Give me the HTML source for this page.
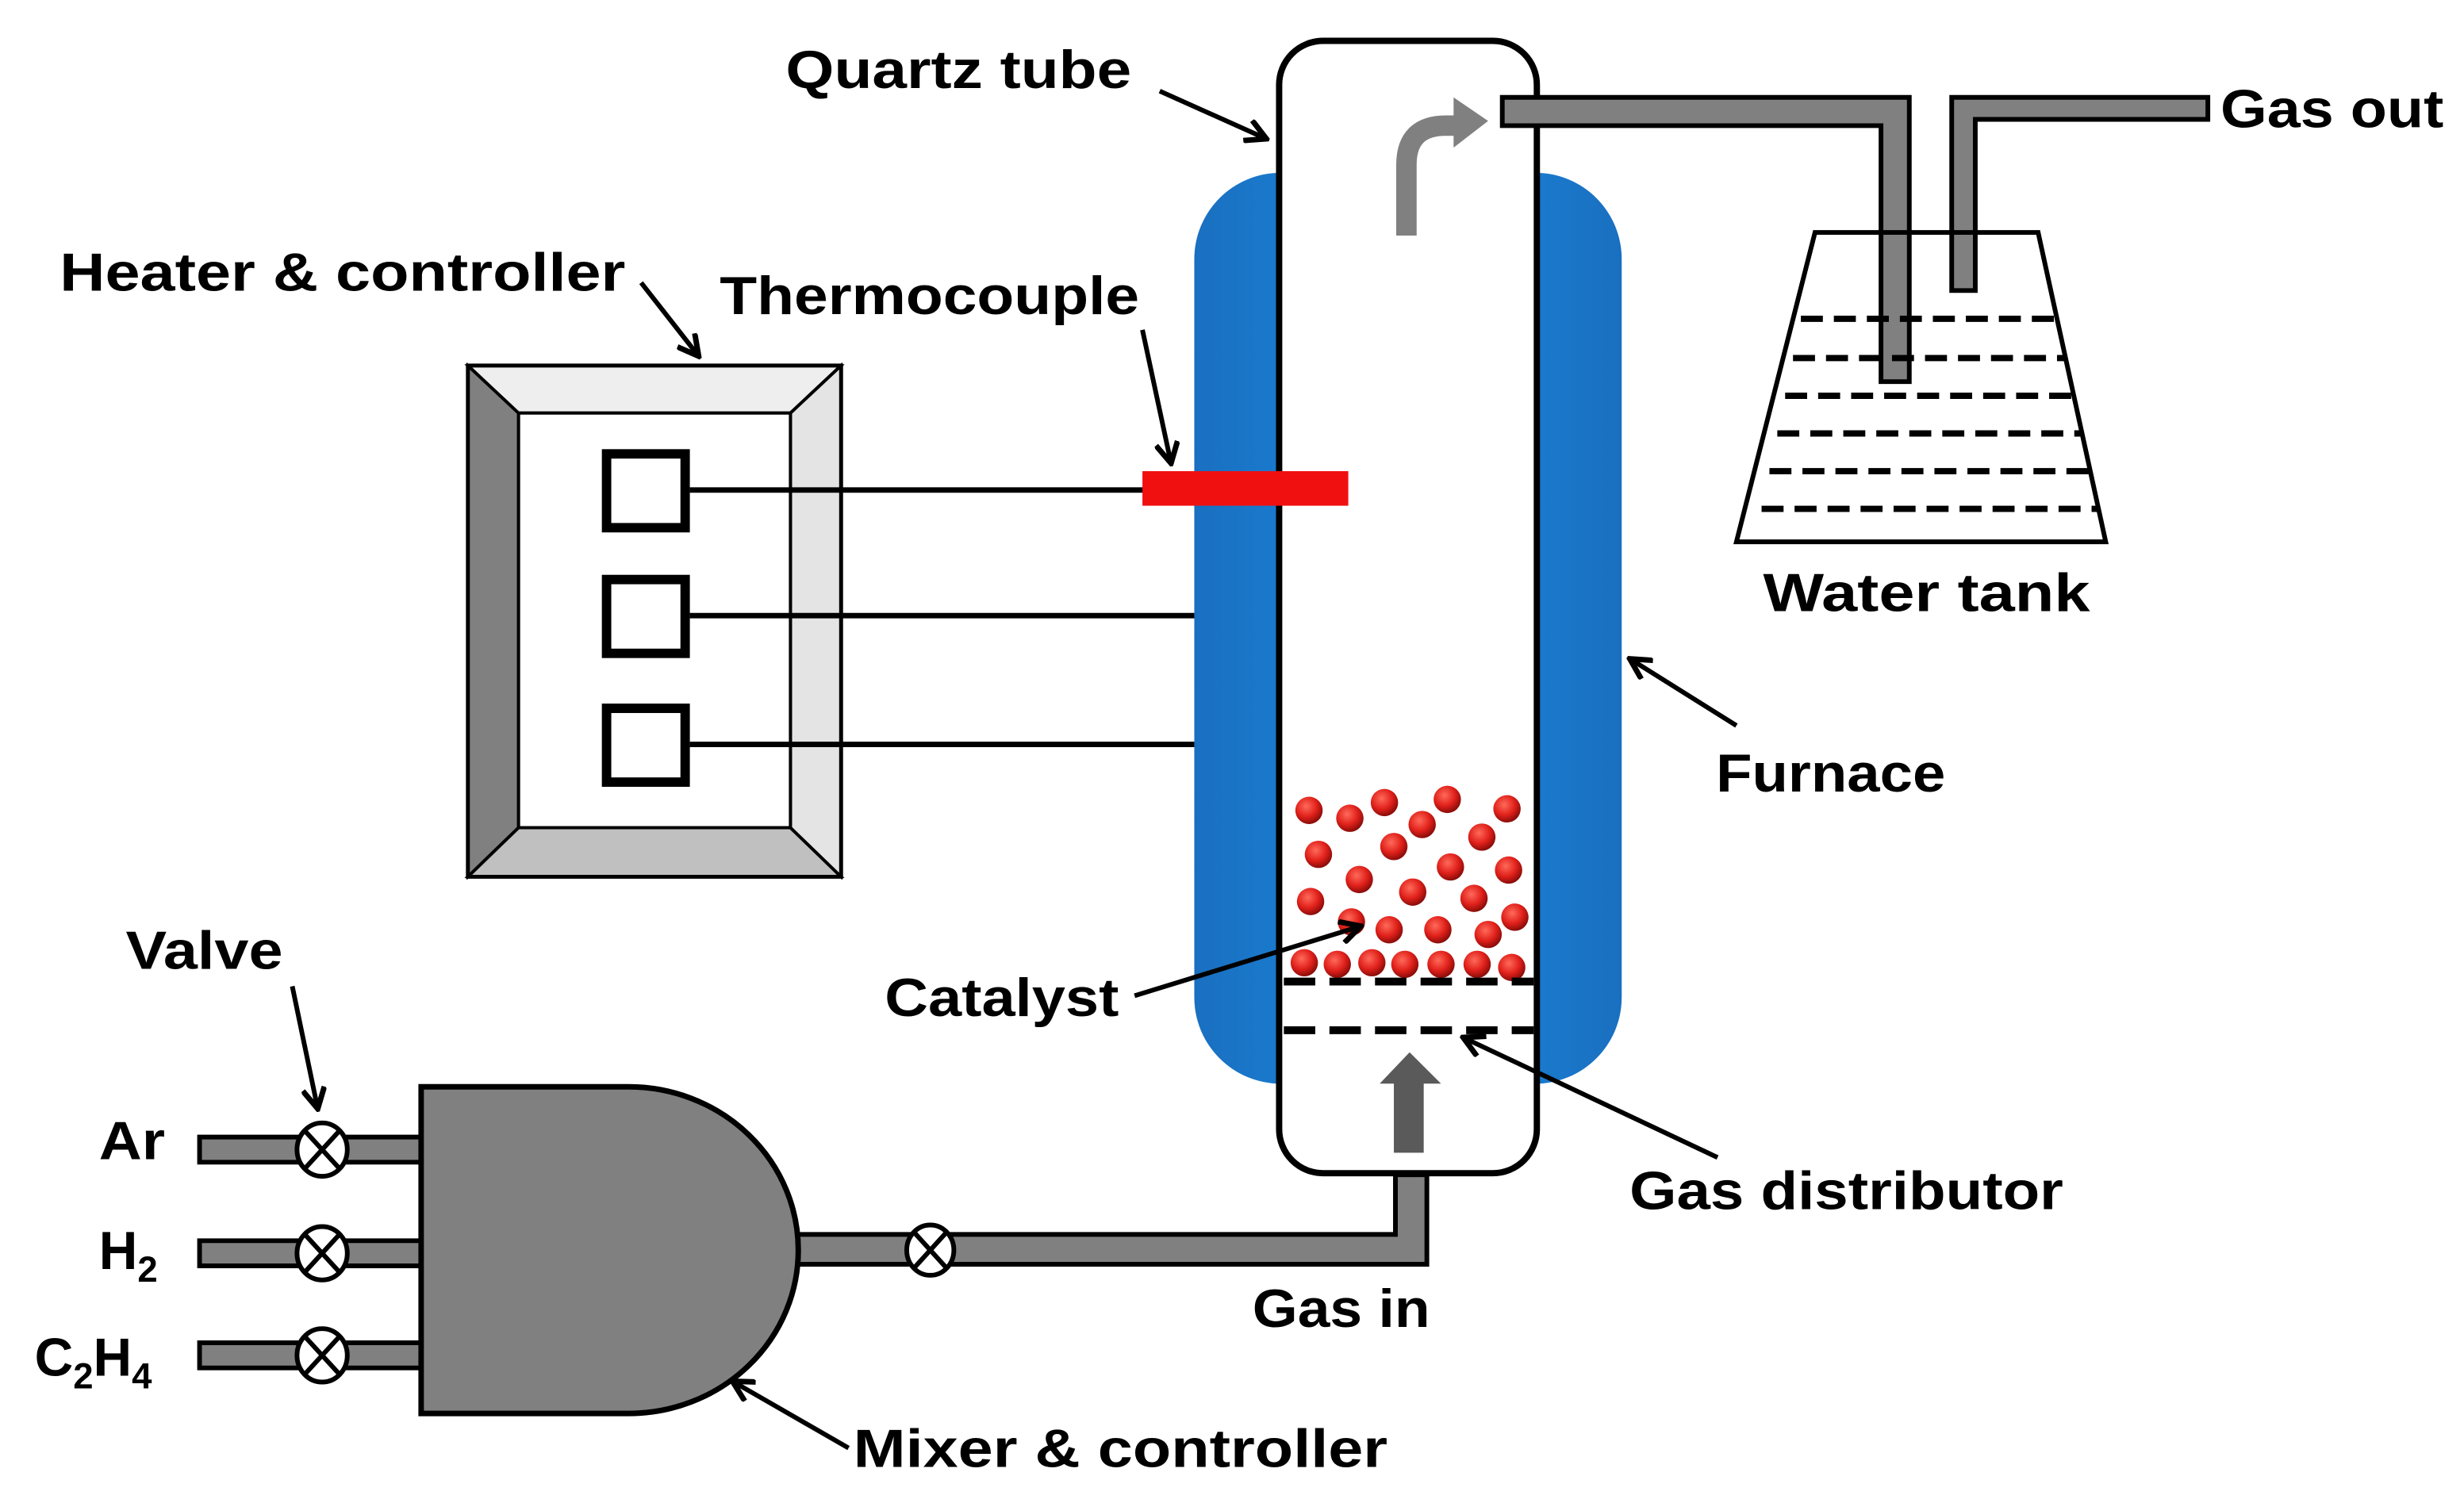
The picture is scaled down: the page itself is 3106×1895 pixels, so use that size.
<!DOCTYPE html>
<html><head><meta charset="utf-8"><style>
html,body{margin:0;padding:0;background:#fff;}
svg{display:block;}
text{font-family:"Liberation Sans",sans-serif;font-weight:bold;fill:#000;}
</style></head><body>
<svg width="3106" height="1895" viewBox="0 0 1568 957" preserveAspectRatio="none" xmlns="http://www.w3.org/2000/svg">
<defs>
<radialGradient id="ball" cx="0.4" cy="0.35" r="0.65">
<stop offset="0" stop-color="#ff6a5a"/><stop offset="0.6" stop-color="#e0201a"/><stop offset="1" stop-color="#8a0d0a"/>
</radialGradient>
<linearGradient id="blue" x1="0" x2="1" y1="0" y2="0">
<stop offset="0" stop-color="#1a6fc0"/><stop offset="0.5" stop-color="#1a8ae0"/><stop offset="1" stop-color="#1a6fc0"/>
</linearGradient>
<marker id="ah" markerWidth="16" markerHeight="16" refX="13" refY="8" orient="auto" markerUnits="userSpaceOnUse">
<path d="M1,1 L14,8 L1,15" fill="none" stroke="#000" stroke-width="3.5"/>
</marker>
</defs>

<rect x="760" y="110" width="272" height="580" rx="55" fill="url(#blue)"/>
<rect x="814" y="26" width="164" height="721" rx="28" fill="#fff" stroke="#000" stroke-width="4"/>

<path d="M956,62 H1215 V243 H1197 V80 H956 Z" fill="#808080" stroke="#000" stroke-width="3"/>
<path d="M1242,185 V62 H1405 V76 H1257 V185 Z" fill="#808080" stroke="#000" stroke-width="3"/>
<path d="M1155,148 H1297 L1340,345 H1105 Z" fill="none" stroke="#000" stroke-width="3"/>
<g stroke="#000" stroke-width="4" stroke-dasharray="14,7">
<line x1="1146" y1="203" x2="1308" y2="203"/>
<line x1="1141" y1="228" x2="1314" y2="228"/>
<line x1="1136" y1="252" x2="1319" y2="252"/>
<line x1="1131" y1="276" x2="1324" y2="276"/>
<line x1="1126" y1="300" x2="1330" y2="300"/>
<line x1="1121" y1="324" x2="1335" y2="324"/>
</g>
<path d="M895,150 V105 Q895,80 920,80 H928" fill="none" stroke="#808080" stroke-width="13"/>
<path d="M925,62 L947,77 L925,94 Z" fill="#808080"/>

<rect x="298" y="233" width="237" height="325" fill="#fff" stroke="#000" stroke-width="3"/>
<path d="M298,233 L330,263 L330,527 L298,558 Z" fill="#808080" stroke="#000" stroke-width="2"/>
<path d="M298,233 L535,233 L503,263 L330,263 Z" fill="#eee" stroke="#000" stroke-width="2"/>
<path d="M298,558 L330,527 L503,527 L535,558 Z" fill="#c0c0c0" stroke="#000" stroke-width="2"/>
<path d="M535,233 L503,263 L503,527 L535,558 Z" fill="#e4e4e4" stroke="#000" stroke-width="2"/>
<rect x="330" y="263" width="173" height="264" fill="#fff" stroke="#000" stroke-width="2"/>
<g fill="#fff" stroke="#000" stroke-width="6">
<rect x="386" y="289" width="50" height="47"/>
<rect x="386" y="369" width="50" height="47"/>
<rect x="386" y="451" width="50" height="47"/>
</g>
<g stroke="#000" stroke-width="3.5">
<line x1="439" y1="312" x2="728" y2="312"/>
<line x1="439" y1="392" x2="760" y2="392"/>
<line x1="439" y1="474" x2="760" y2="474"/>
</g>
<rect x="727" y="300" width="131" height="22" fill="#f01010"/>

<g fill="url(#ball)">
<circle cx="833" cy="516" r="8.7"/><circle cx="859" cy="521" r="8.7"/><circle cx="881" cy="511" r="8.7"/><circle cx="905" cy="525" r="8.7"/><circle cx="921" cy="509" r="8.7"/><circle cx="959" cy="515" r="8.7"/>
<circle cx="839" cy="544" r="8.7"/><circle cx="887" cy="539" r="8.7"/><circle cx="943" cy="533" r="8.7"/><circle cx="865" cy="560" r="8.7"/><circle cx="923" cy="552" r="8.7"/><circle cx="960" cy="554" r="8.7"/>
<circle cx="899" cy="568" r="8.7"/><circle cx="938" cy="572" r="8.7"/><circle cx="834" cy="574" r="8.7"/><circle cx="860" cy="587" r="8.7"/><circle cx="884" cy="592" r="8.7"/><circle cx="915" cy="592" r="8.7"/><circle cx="947" cy="595" r="8.7"/><circle cx="964" cy="584" r="8.7"/>
<circle cx="830" cy="613" r="8.7"/><circle cx="851" cy="614" r="8.7"/><circle cx="873" cy="613" r="8.7"/><circle cx="894" cy="614" r="8.7"/><circle cx="917" cy="614" r="8.7"/><circle cx="940" cy="614" r="8.7"/><circle cx="962" cy="616" r="8.7"/>
</g>
<g stroke="#000" stroke-width="5" stroke-dasharray="20,9">
<line x1="817" y1="625" x2="976" y2="625"/>
<line x1="817" y1="656" x2="976" y2="656"/>
</g>
<path d="M887,734 V690 H878 L897,670 L917,690 H906 V734 Z" fill="#5a5a5a"/>

<path d="M127,724 H290 V740 H127 Z M127,790 H290 V806 H127 Z M127,855 H290 V871 H127 Z" fill="#808080" stroke="#000" stroke-width="3"/>
<path d="M505,786 H888 V748 H908 V805 H505 Z" fill="#808080" stroke="#000" stroke-width="3"/>
<path d="M268,692 H400 A108,104 0 0 1 400,900 H268 Z" fill="#808080" stroke="#000" stroke-width="3.5"/>
<g fill="#fff" stroke="#000" stroke-width="3">
<ellipse cx="205" cy="732" rx="16" ry="17"/><ellipse cx="205" cy="798" rx="16" ry="17"/><ellipse cx="205" cy="863" rx="16" ry="17"/><ellipse cx="592" cy="796" rx="15" ry="16"/>
</g>
<g stroke="#000" stroke-width="3">
<path d="M194,720 L216,744 M216,720 L194,744"/>
<path d="M194,786 L216,810 M216,786 L194,810"/>
<path d="M194,851 L216,875 M216,851 L194,875"/>
<path d="M582,785 L602,807 M602,785 L582,807"/>
</g>

<g stroke="#000" stroke-width="3" fill="none" marker-end="url(#ah)">
<line x1="738" y1="58" x2="805" y2="88"/>
<line x1="408" y1="180" x2="444" y2="226"/>
<line x1="727" y1="210" x2="745" y2="294"/>
<line x1="1105" y1="462" x2="1038" y2="420"/>
<line x1="722" y1="634" x2="865" y2="590"/>
<line x1="1093" y1="737" x2="932" y2="661"/>
<line x1="540" y1="922" x2="467" y2="880"/>
<line x1="186" y1="628" x2="202" y2="705"/>
</g>

<g font-size="34" lengthAdjust="spacingAndGlyphs">
<text x="500" y="56" textLength="220" lengthAdjust="spacingAndGlyphs">Quartz tube</text>
<text x="38" y="185" textLength="360" lengthAdjust="spacingAndGlyphs">Heater &amp; controller</text>
<text x="458" y="200" textLength="267" lengthAdjust="spacingAndGlyphs">Thermocouple</text>
<text x="1413" y="81" textLength="142" lengthAdjust="spacingAndGlyphs">Gas out</text>
<text x="1122" y="389" textLength="208" lengthAdjust="spacingAndGlyphs">Water tank</text>
<text x="1092" y="504" textLength="146" lengthAdjust="spacingAndGlyphs">Furnace</text>
<text x="563" y="647" textLength="149" lengthAdjust="spacingAndGlyphs">Catalyst</text>
<text x="1037" y="770" textLength="276" lengthAdjust="spacingAndGlyphs">Gas distributor</text>
<text x="797" y="845" textLength="113" lengthAdjust="spacingAndGlyphs">Gas in</text>
<text x="543" y="934" textLength="340" lengthAdjust="spacingAndGlyphs">Mixer &amp; controller</text>
<text x="80" y="617" textLength="100" lengthAdjust="spacingAndGlyphs">Valve</text>
<text x="63" y="738" textLength="42" lengthAdjust="spacingAndGlyphs">Ar</text>
<text x="63" y="808">H<tspan font-size="23" dy="8">2</tspan></text>
<text x="22" y="876">C<tspan font-size="23" dy="8">2</tspan><tspan dy="-8">H</tspan><tspan font-size="23" dy="8">4</tspan></text>
</g>
</svg>
</body></html>
